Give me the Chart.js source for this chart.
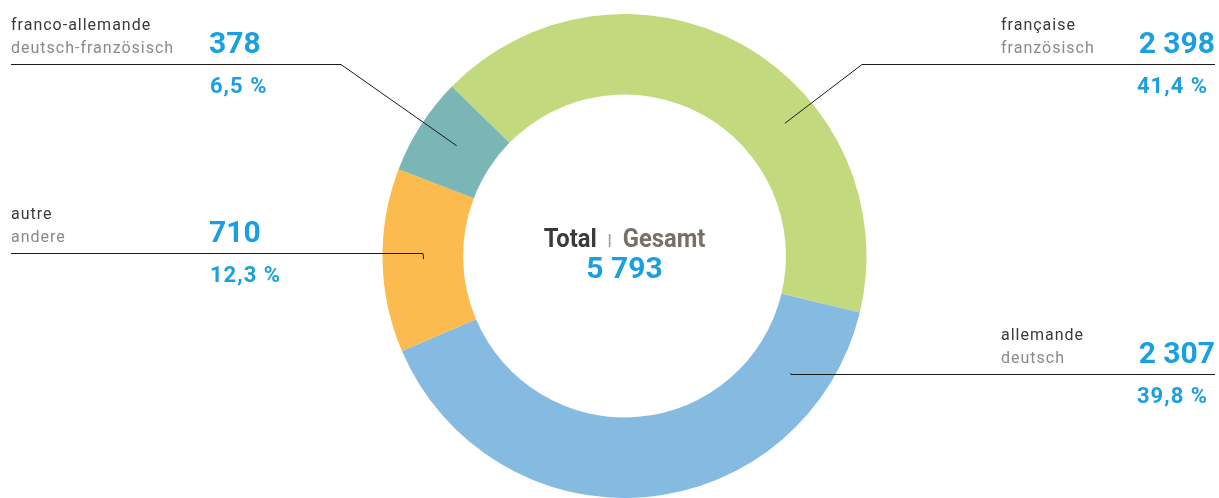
<!DOCTYPE html>
<html>
<head>
<meta charset="utf-8">
<script src="https://cdn.jsdelivr.net/npm/chart.js@4.4.1/dist/chart.umd.min.js"></script>
<style>
  html, body { margin: 0; padding: 0; background: #fff; }
  #wrap { width: 1219px; height: 498px; position: relative; }
</style>
</head>
<body>
<div id="wrap"><canvas id="langChart"></canvas></div>
<script>
// daten
const labelsFr = ["française", "allemande", "autre", "franco-allemande"];
const labelsDe = ["französisch", "deutsch", "andere", "deutsch-französisch"];
const counts = [2398, 2307, 710, 378];
const shares = ["41,4 %", "39,8 %", "12,3 %", "6,5 %"];
const totalLabel = "5 793";
const colors = ["#c3d97d", "#86bbe1", "#fbbb4f", "#7ab6b5"];

const BLUE = "#1a9fe0";

// position of each label block + where its leader line touches the ring
const labelLayout = [
  { side: "right", x: 1001, y: 64, lineFrom: 862, anchorAngle: 50.4, anchorR: 0.86 },
  { side: "right", x: 1001, y: 374, lineFrom: 791, anchorAngle: 125.2, anchorR: 0.84 },
  { side: "left", x: 11, y: 253, lineTo: 423, anchorAngle: -90.9, anchorR: 0.83 },
  { side: "left", x: 11, y: 64, lineTo: 341, anchorAngle: -56.7, anchorR: 0.83 }
];

const fmt = n => String(n).replace(/\B(?=(\d{3})+(?!\d))/g, " ");

const calloutPlugin = {
  id: "callouts",
  afterDraw(chart) {
    const ctx = chart.ctx;
    const arc = chart.getDatasetMeta(0).data[0];
    const cx = arc.x, cy = arc.y, R = arc.outerRadius;
    ctx.save();
    labelLayout.forEach((l, i) => {
      const a = l.anchorAngle * Math.PI / 180;
      const ax = cx + Math.sin(a) * R * l.anchorR;
      const ay = cy - Math.cos(a) * R * l.anchorR;
      // leader
      ctx.strokeStyle = "#1a1a1a";
      ctx.lineWidth = 1;
      ctx.beginPath();
      if (l.side === "left") {
        ctx.moveTo(l.x, l.y + 0.5);
        ctx.lineTo(l.lineTo, l.y + 0.5);
        ctx.lineTo(ax, ay);
      } else {
        ctx.moveTo(1215, l.y + 0.5);
        ctx.lineTo(l.lineFrom, l.y + 0.5);
        ctx.lineTo(ax, ay);
      }
      ctx.stroke();

      // names
      ctx.textBaseline = "alphabetic";
      ctx.textAlign = "left";
      ctx.letterSpacing = "1px";
      ctx.font = "16px Roboto";
      ctx.fillStyle = "#3a3a3a";
      ctx.fillText(labelsFr[i], l.x, l.y - 34);
      ctx.fillStyle = "#8a8a8a";
      ctx.fillText(labelsDe[i], l.x, l.y - 11);

      // value + share
      ctx.fillStyle = BLUE;
      if (l.side === "left") {
        ctx.letterSpacing = "0px";
        ctx.font = "bold 30px Roboto";
        ctx.fillText(fmt(counts[i]), 209, l.y - 11);
        ctx.letterSpacing = "1px";
        ctx.font = "bold 22px Roboto";
        ctx.fillText(shares[i], 210, l.y + 29);
      } else {
        ctx.textAlign = "right";
        ctx.letterSpacing = "0px";
        ctx.font = "bold 30px Roboto";
        ctx.fillText(fmt(counts[i]), 1215, l.y - 11);
        ctx.letterSpacing = "1px";
        ctx.font = "bold 22px Roboto";
        ctx.fillText(shares[i], 1208, l.y + 29);
      }
    });
    ctx.letterSpacing = "0px";

    // centre: Total | Gesamt
    ctx.textAlign = "left";
    const sx = 0.95, gap = 12;
    ctx.font = "bold 25px Roboto";
    const wTot = ctx.measureText("Total").width * sx;
    const wGes = ctx.measureText("Gesamt").width * sx;
    const full = wTot + gap * 2 + 2 + wGes;
    const x0 = cx - full / 2, by = cy - 9;
    ctx.save();
    ctx.translate(x0, by);
    ctx.scale(sx, 1);
    ctx.fillStyle = "#3a3a3a";
    ctx.fillText("Total", 0, 0);
    ctx.restore();
    ctx.fillStyle = "#9a9a9a";
    ctx.fillRect(x0 + wTot + gap, by - 13, 1.6, 13);
    ctx.save();
    ctx.translate(x0 + wTot + gap * 2 + 2, by);
    ctx.scale(sx, 1);
    ctx.fillStyle = "#7a6e65";
    ctx.fillText("Gesamt", 0, 0);
    ctx.restore();

    ctx.textAlign = "center";
    ctx.fillStyle = BLUE;
    ctx.font = "bold 30px Roboto";
    ctx.fillText(totalLabel, cx, cy + 22);
    ctx.restore();
  }
};

new Chart(document.getElementById("langChart"), {
  type: "doughnut",
  data: {
    labels: labelsFr,
    datasets: [{
      data: counts,
      backgroundColor: colors,
      borderWidth: 0
    }]
  },
  options: {
    responsive: true,
    maintainAspectRatio: false,
    animation: false,
    rotation: -45.5,
    cutout: "66.7%",
    layout: { padding: { left: 30, right: 0, top: 14, bottom: 0 } },
    plugins: {
      legend: { display: false },
      tooltip: { enabled: false }
    }
  },
  plugins: [calloutPlugin]
});
</script>
</body>
</html>
